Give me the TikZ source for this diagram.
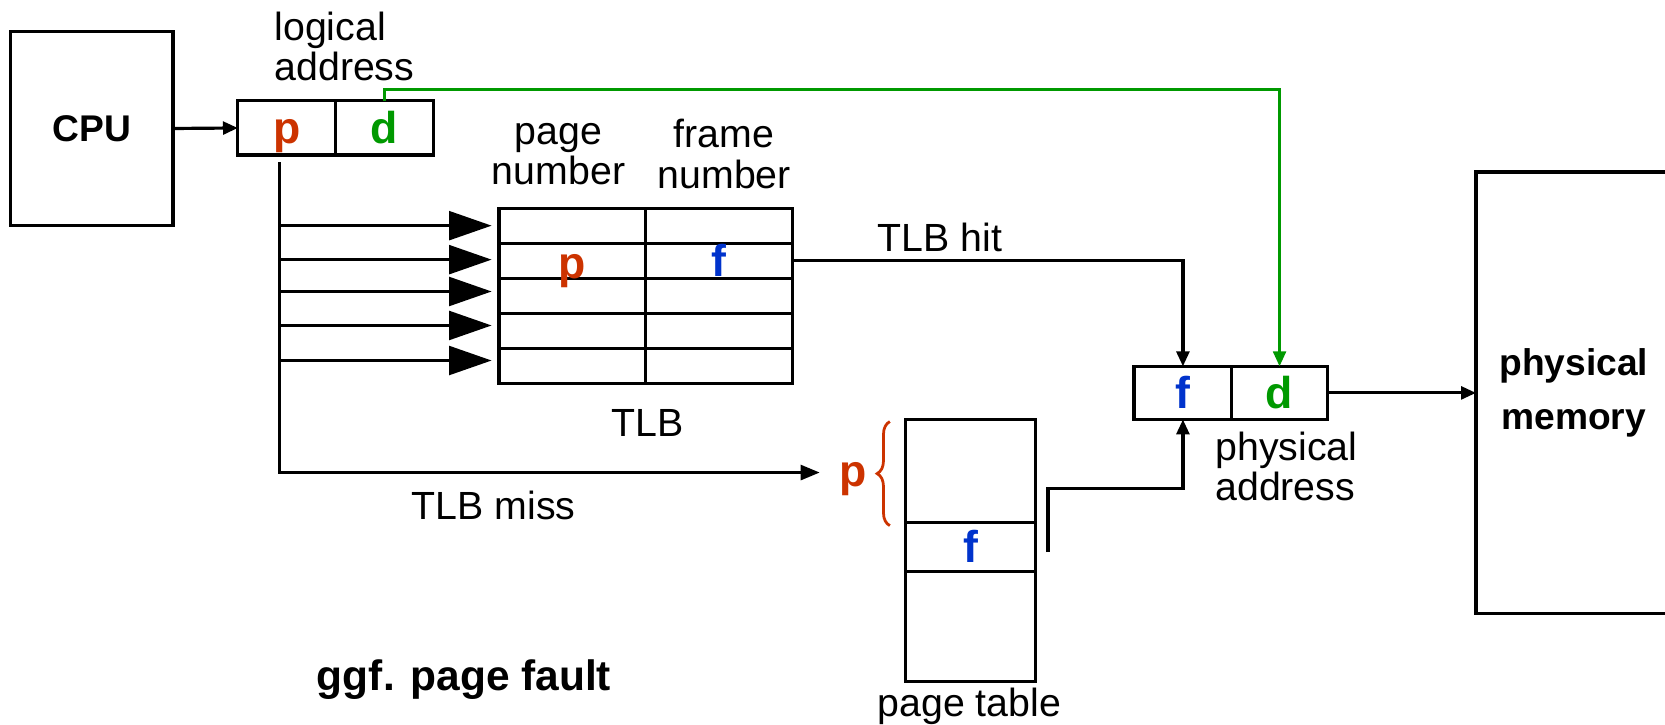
\documentclass[tikz,border=0pt]{standalone}
\usepackage{fontspec}
\setmainfont{Liberation Sans}
\usetikzlibrary{arrows.meta,decorations.pathreplacing}
\definecolor{pred}{RGB}{204,51,0}
\definecolor{dgreen}{RGB}{0,153,0}
\definecolor{fblue}{RGB}{0,51,204}
\newcommand\txtfont{\fontsize{18.5}{19}\selectfont}
\newcommand\boldlab{\fontsize{17.5}{25}\selectfont\bfseries}
\newcommand\faultfont{\fontsize{20}{24}\selectfont\bfseries}
\newcommand\letterfont{\fontsize{21}{24}\selectfont\bfseries}
\begin{document}
\begin{tikzpicture}[x=0.5pt,y=-0.5pt,line width=1.5pt,
  cell/.style 2 args={draw, inner sep=0pt, outer sep=0pt, minimum width=#1, minimum height=#2},
  letter/.style={font=\letterfont, text height=15pt, text depth=0pt},
  txt/.style={font=\txtfont, inner sep=0pt},
  sarrow/.style={-{Triangle[length=7pt,width=6pt]}},
  marrow/.style={-{Triangle[length=9pt,width=7pt]}},
  bigarrow/.style={-{Triangle[length=20pt,width=13.5pt]}}]
\useasboundingbox (0,0) rectangle (1568,682);
\clip (0,0) rectangle (1568,682);

% CPU
\node[cell={76.5pt}{91pt}, font=\boldlab] (cpu) at (86.5,121) {CPU};
% logical address
\node[cell={46pt}{25.5pt}, letter, text=pred] (lap) at (270,120.5) {p};
\node[cell={46pt}{25.5pt}, letter, text=dgreen] (lad) at (362,120.5) {d};
\node[txt, align=left, anchor=west] (lalab) at (257,44) {logical\\address};
\draw[sarrow] (cpu.east) -- (lap.west);

% TLB
\foreach \i in {1,...,5}{
  \node[cell={69pt}{16.5pt}] (tl\i) at (539,{179.5+33*\i}) {};
  \node[cell={69pt}{16.5pt}] (tr\i) at (677,{179.5+33*\i}) {};
}
\node[letter, text=pred, inner sep=0pt] (tlp) at (539,247) {p};
\node[letter, text=fblue, inner sep=0pt] (tlf) at (677,245.5) {f};
\node[txt, align=center] (pnlab) at (526,145) {page\\number};
\node[txt, align=center] (fnlab) at (682,145) {frame\\number};
\node[txt] (tlblab) at (610,398) {TLB};

% lookup lines
\coordinate (v0) at (263,153);
\coordinate (vm) at (263,445);
\coordinate (misstip) at (772,445);
\foreach \i/\dy in {1/0pt,2/0.5pt,3/2pt,4/2.5pt,5/2.5pt}{
  \draw[bigarrow] ([yshift=\dy]v0 |- tl\i.west) -- ([xshift=-3.5pt,yshift=\dy]tl\i.west);
}
\draw[marrow] (v0) -- (vm) -- (misstip);
\node[txt] (misslab) at (465,476) {TLB miss};

% physical address
\node[cell={46pt}{25pt}, letter, text=fblue] (paf) at (1114,370) {f};
\node[cell={45pt}{25pt}, letter, text=dgreen] (pad) at (1205,370) {d};
\node[txt, align=left, anchor=west] (palab) at (1143,439) {physical\\address};

% TLB hit
\draw[sarrow] (tr2.east) -| (paf.north);
\node[txt] (hitlab) at (885,224) {TLB hit};

% offset d (green)
\draw[dgreen, line width=1.3pt, sarrow] (lad.north) -- ++(0,-11) -| (pad.north);

% page table
\node[cell={61pt}{48.5pt}] (pt1) at (914,443.5) {};
\node[cell={61pt}{23pt}, letter, text=fblue] (pt2) at (914,515) {f};
\node[cell={61pt}{52pt}] (pt3) at (914,590) {};
\node[txt] (ptlab) at (913,665) {page table};
\draw[pred, line width=1.3pt, decorate, decoration={brace, amplitude=6pt}] (838,495) -- (838,397);
\node[letter, text=pred, inner sep=0pt, anchor=base] (ptp) at (803,458) {p};

\coordinate (ptout) at (987,520);
\draw[sarrow] (ptout) -- ++(0,-60) -| (paf.south);

% physical memory
\node[cell={92pt}{208pt}, font=\boldlab, align=center] (pm) at (1482,370) {physical\\memory};
\draw[sarrow] (pad.east) -- (pm.west);

% page fault
\node[font=\faultfont] (fault) at (437,640) {ggf. page fault};
\end{tikzpicture}
\end{document}
